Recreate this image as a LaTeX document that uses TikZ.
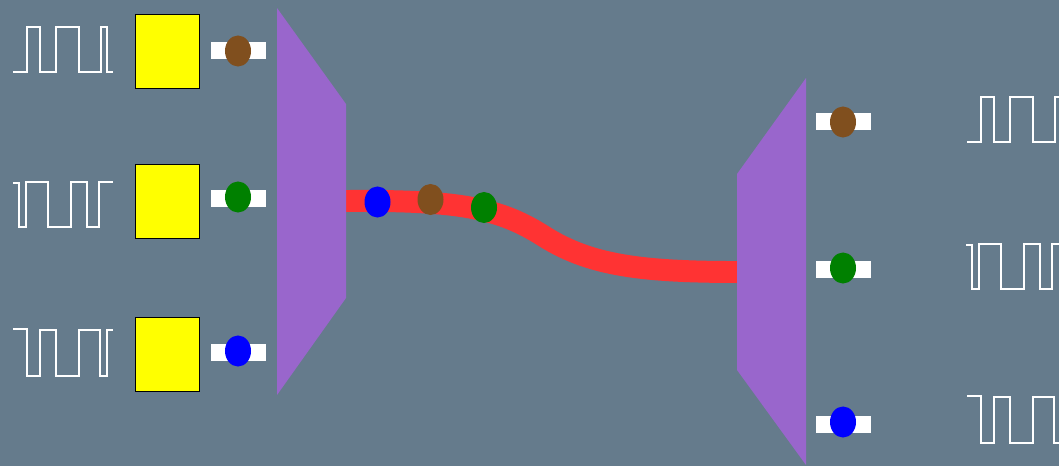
\documentclass[tikz,border=0pt]{standalone}
\usepackage{tikz}
\usetikzlibrary{shapes.geometric}
\definecolor{bgslate}{RGB}{101,123,140}
\definecolor{muxpurple}{RGB}{153,102,204}
\definecolor{fiberred}{RGB}{255,51,51}
\definecolor{txyellow}{RGB}{255,255,0}
\definecolor{chbrown}{RGB}{128,79,30}
\definecolor{chgreen}{RGB}{0,128,0}
\definecolor{chblue}{RGB}{0,0,255}

\begin{document}
\begin{tikzpicture}[x=0.025cm, y=-0.025cm,
	modbox/.style={draw=black, line width=0.6pt, fill=txyellow, minimum width=1.6cm, minimum height=1.85cm, inner sep=0pt},
	port/.style={fill=white, minimum width=1.375cm, minimum height=0.425cm, inner sep=0pt},
	chan/.style={ellipse, minimum width=0.65cm, minimum height=0.775cm, inner sep=0pt},
	wave/.style={white, line width=1.3pt},
	fiber/.style={fiberred, line width=15.6pt}]
	\fill[bgslate] (0,0) rectangle (1059,466);
	\useasboundingbox (0,0) rectangle (1059,466);
	% input bit streams
	\begin{scope}
		\draw[wave] (13,72) -- (27,72) -- (27,27) -- (40,27) -- (40,72) -- (56,72) -- (56,27) -- (79,27) -- (79,72) -- (101,72) -- (101,27) -- (107,27) -- (107,72) -- (113,72);
		\draw[wave] (13,183) -- (19,183) -- (19,227) -- (26,227) -- (26,182) -- (48,182) -- (48,227) -- (71,227) -- (71,182) -- (87,182) -- (87,227) -- (99,227) -- (99,182) -- (113,182);
		\draw[wave] (13,329) -- (27,329) -- (27,376) -- (40,376) -- (40,330) -- (56,330) -- (56,376) -- (79,376) -- (79,330) -- (100,330) -- (100,376) -- (107,376) -- (107,330) -- (113,330);
	\end{scope}
	% transmitters
	\node[modbox] (tx1) at (167,51) {};
	\node[modbox] (tx2) at (167,201) {};
	\node[modbox] (tx3) at (167,354) {};
	\node[port] (in1) at (238.5,50.5) {};
	\node[port] (in2) at (238.5,198.5) {};
	\node[port] (in3) at (238.5,352.5) {};
	\node[chan, fill=chbrown] (lam1) at (238,51) {};
	\node[chan, fill=chgreen] (lam2) at (238,197) {};
	\node[chan, fill=chblue] (lam3) at (238,351) {};
	% fibre link
	\coordinate (muxout) at (346,201);
	\coordinate (demuxin) at (737,272);
	\draw[fiber] (muxout) .. controls (460,200) and (500,208) .. (545,237) .. controls (590,265) and (640,272) .. (demuxin);
	% multiplexer and demultiplexer
	\fill[muxpurple] (277,8) -- (346,104) -- (346,298) -- (277,395) -- cycle;
	\fill[muxpurple] (806,78) -- (737,174) -- (737,370) -- (806,465) -- cycle;
	\node[chan, fill=chblue] (sig3) at (377.5,202) {};
	\node[chan, fill=chbrown] (sig1) at (430.5,199.5) {};
	\node[chan, fill=chgreen] (sig2) at (484,207.5) {};
	% receivers
	\node[port] (out1) at (843.5,121.5) {};
	\node[port] (out2) at (843.5,269.5) {};
	\node[port] (out3) at (843.5,424) {};
	\node[chan, fill=chbrown] (rx1) at (843,122) {};
	\node[chan, fill=chgreen] (rx2) at (843,268) {};
	\node[chan, fill=chblue] (rx3) at (843,422) {};
	% recovered bit streams
	\begin{scope}[shift={(954,70)}]
		\draw[wave] (13,72) -- (27,72) -- (27,27) -- (40,27) -- (40,72) -- (56,72) -- (56,27) -- (79,27) -- (79,72) -- (101,72) -- (101,27) -- (107,27) -- (107,72) -- (113,72);
	\end{scope}
	\begin{scope}[shift={(953,62)}]
		\draw[wave] (13,183) -- (19,183) -- (19,227) -- (26,227) -- (26,182) -- (48,182) -- (48,227) -- (71,227) -- (71,182) -- (87,182) -- (87,227) -- (99,227) -- (99,182) -- (113,182);
	\end{scope}
	\begin{scope}[shift={(954,67)}]
		\draw[wave] (13,329) -- (27,329) -- (27,376) -- (40,376) -- (40,330) -- (56,330) -- (56,376) -- (79,376) -- (79,330) -- (100,330) -- (100,376) -- (107,376) -- (107,330) -- (113,330);
	\end{scope}
\end{tikzpicture}
\end{document}
